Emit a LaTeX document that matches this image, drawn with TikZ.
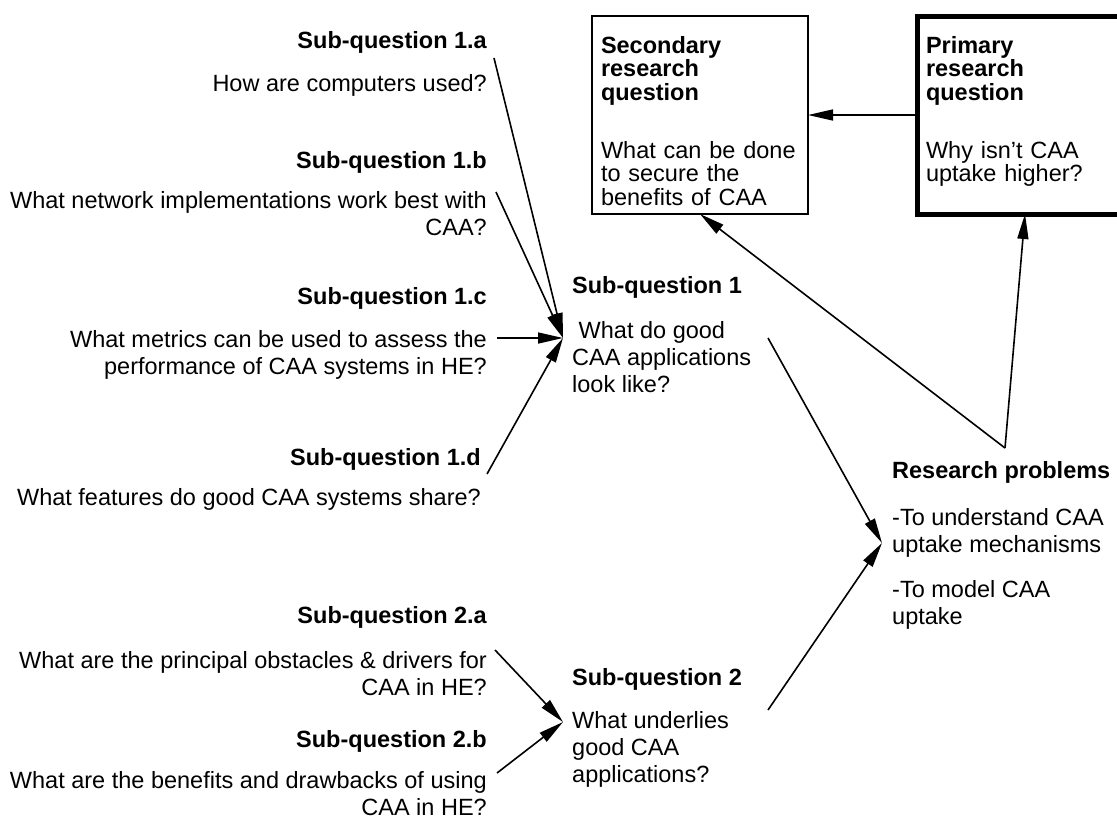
\documentclass[tikz,border=0pt]{standalone}
\usepackage{fontspec}
\setmainfont{Liberation Sans}
\usetikzlibrary{arrows.meta}
\newcommand{\txtsize}{\fontsize{23.5}{27}\selectfont}
\newcommand{\boxsize}{\fontsize{23.5}{23.5}\selectfont}
\tikzset{rq/.style={draw,line width=1.7pt,outer sep=0pt,anchor=north west,text width=198pt,inner xsep=9pt,inner ysep=0pt,
   text height=37.2pt,text depth=160.8pt,align=left,font=\boxsize},
 prq/.style={rq,line width=5pt},
 hd/.style={inner sep=0pt,font=\txtsize\bfseries},
 lq/.style={inner sep=0pt,anchor=north east,align=right,font=\txtsize},
 mq/.style={inner sep=0pt,anchor=north west,align=left,font=\txtsize},
 flow/.style={-{Triangle[length=25pt,width=11pt]},line width=1.6pt}}

\begin{document}
\begin{tikzpicture}[x=1pt,y=-1pt]
\useasboundingbox (0,0) rectangle (1117,822);
% research questions
\node[rq](sec) at (592,16){\textbf{Secondary}\\\textbf{research}\\\textbf{question}\\[34.5pt]What can be done\\to secure the\\benefits of CAA};
\node[prq](prim) at (917,16){\textbf{Primary}\\\textbf{research}\\\textbf{question}\\[34.5pt]Why isn’t CAA\\uptake higher?};
% sub-questions of 1
\node[hd,anchor=north east](t1a) at (487,31){Sub-question 1.a};
\node[lq](b1a) at (487,74){How are computers used?};
\node[hd,anchor=north east](t1b) at (487,151){Sub-question 1.b};
\node[lq](b1b) at (487,191){What network implementations work best with\\CAA?};
\node[hd,anchor=north east](t1c) at (487,287){Sub-question 1.c};
\node[lq](b1c) at (487,330){What metrics can be used to assess the\\performance of CAA systems in HE?};
\node[hd,anchor=north east](t1d) at (481,448){Sub-question 1.d};
\node[lq](b1d) at (481,488){What features do good CAA systems share?};
% sub-questions of 2
\node[hd,anchor=north east](t2a) at (487,606){Sub-question 2.a};
\node[lq](b2a) at (487,651){What are the principal obstacles \& drivers for\\CAA in HE?};
\node[hd,anchor=north east](t2b) at (487,730){Sub-question 2.b};
\node[lq](b2b) at (487,771){What are the benefits and drawbacks of using\\CAA in HE?};
% middle column
\node[hd,anchor=north west](sq1) at (572,276){Sub-question 1};
\node[mq](d1) at (572,321){\ What do good\\CAA applications\\look like?};
\node[hd,anchor=north west](sq2) at (572,668){Sub-question 2};
\node[mq](d2) at (572,711){What underlies\\good CAA\\applications?};
\node[hd,anchor=north west](rp) at (892,461){Research problems};
\node[mq](rpb) at (892,508){-To understand CAA\\uptake mechanisms\\[18pt]-To model CAA\\uptake};
% meeting points
\coordinate (h1) at (563,338);\coordinate (h2) at (563,722);\coordinate (hr) at (882,543);\coordinate (rt) at (1005,448);
\coordinate (s1a) at (494,58);\coordinate (s1b) at (496,192);\coordinate (s1c) at (497,338);\coordinate (s1d) at (487,474);
\coordinate (s2a) at (495,650);\coordinate (s2b) at (497,773);\coordinate (s1) at (768,338);\coordinate (s2) at (768,710);
\draw[flow](s1a)--(h1);\draw[flow](s1b)--(h1);\draw[flow](s1c)--(h1);\draw[flow](s1d)--(h1);
\draw[flow](s2a)--(h2);\draw[flow](s2b)--(h2);
\draw[flow](s1)--(hr);\draw[flow](s2)--(hr);
\draw[flow](rt)--(sec.south);\draw[flow](rt)--(prim.south);
\draw[flow](prim.west)--(sec.east);
\end{tikzpicture}
\end{document}
